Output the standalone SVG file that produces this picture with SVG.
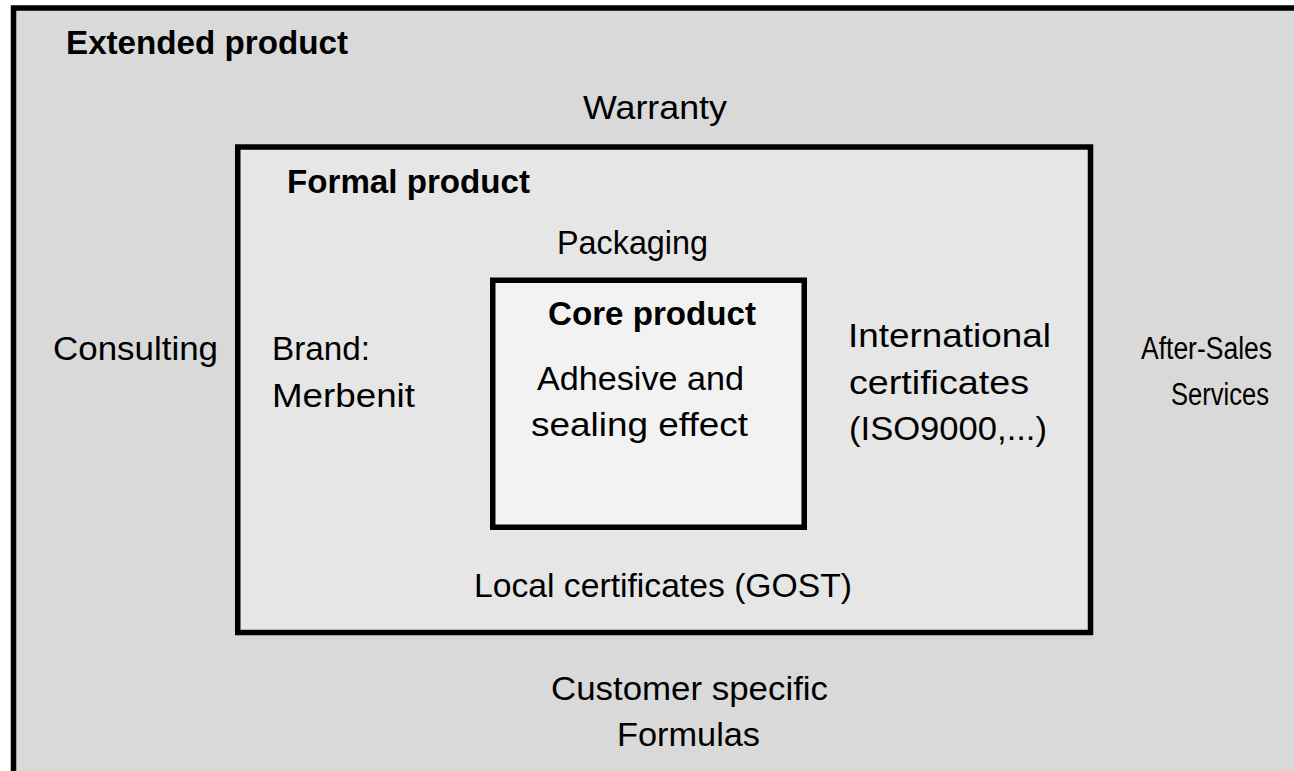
<svg xmlns="http://www.w3.org/2000/svg" width="1294" height="771" viewBox="0 0 1294 771">
<style>
text{font-family:"Liberation Sans",Arial,sans-serif;font-size:33px;fill:#000}
.b{font-weight:bold;font-size:34px}
.s{font-size:31px}
.box{stroke:#000;stroke-width:5.5}
</style>
<rect width="1294" height="771" fill="#ffffff"/>
<g id="extended">
<rect x="13.5" y="8" width="1281" height="763" fill="#d9d9d9"/>
<path d="M13.5 771 V8 H1294" fill="none" stroke="#000" stroke-width="5.5"/>
<text class="b" x="66" y="54" textLength="282" lengthAdjust="spacingAndGlyphs">Extended product</text>
<text x="583" y="119" textLength="144" lengthAdjust="spacingAndGlyphs">Warranty</text>
<text x="53" y="360" textLength="165" lengthAdjust="spacingAndGlyphs">Consulting</text>
<text class="s" x="1141" y="359" textLength="131" lengthAdjust="spacingAndGlyphs">After-Sales</text>
<text class="s" x="1171" y="405" textLength="98" lengthAdjust="spacingAndGlyphs">Services</text>
<text x="551" y="700" textLength="277" lengthAdjust="spacingAndGlyphs">Customer specific</text>
<text x="617" y="746" textLength="143" lengthAdjust="spacingAndGlyphs">Formulas</text>
</g>
<g id="formal">
<rect class="box" x="237.75" y="147" width="852.75" height="485.5" fill="#e6e6e6"/>
<text class="b" x="287" y="193" textLength="243" lengthAdjust="spacingAndGlyphs">Formal product</text>
<text x="557" y="254" textLength="151" lengthAdjust="spacingAndGlyphs">Packaging</text>
<text x="272" y="360" textLength="98" lengthAdjust="spacingAndGlyphs">Brand:</text>
<text x="272" y="407" textLength="143" lengthAdjust="spacingAndGlyphs">Merbenit</text>
<text x="848" y="347" textLength="203" lengthAdjust="spacingAndGlyphs">International</text>
<text x="849" y="394" textLength="180" lengthAdjust="spacingAndGlyphs">certificates</text>
<text x="849" y="440" textLength="198" lengthAdjust="spacingAndGlyphs">(ISO9000,...)</text>
<text x="474" y="597" textLength="378" lengthAdjust="spacingAndGlyphs">Local certificates (GOST)</text>
</g>
<g id="core">
<rect class="box" x="492.75" y="280.25" width="311.5" height="247" fill="#f2f2f2"/>
<text class="b" x="548" y="325" textLength="208" lengthAdjust="spacingAndGlyphs">Core product</text>
<text x="537" y="390" textLength="207" lengthAdjust="spacingAndGlyphs">Adhesive and</text>
<text x="531" y="436" textLength="217" lengthAdjust="spacingAndGlyphs">sealing effect</text>
</g>
<g id="connectors"/>
</svg>
